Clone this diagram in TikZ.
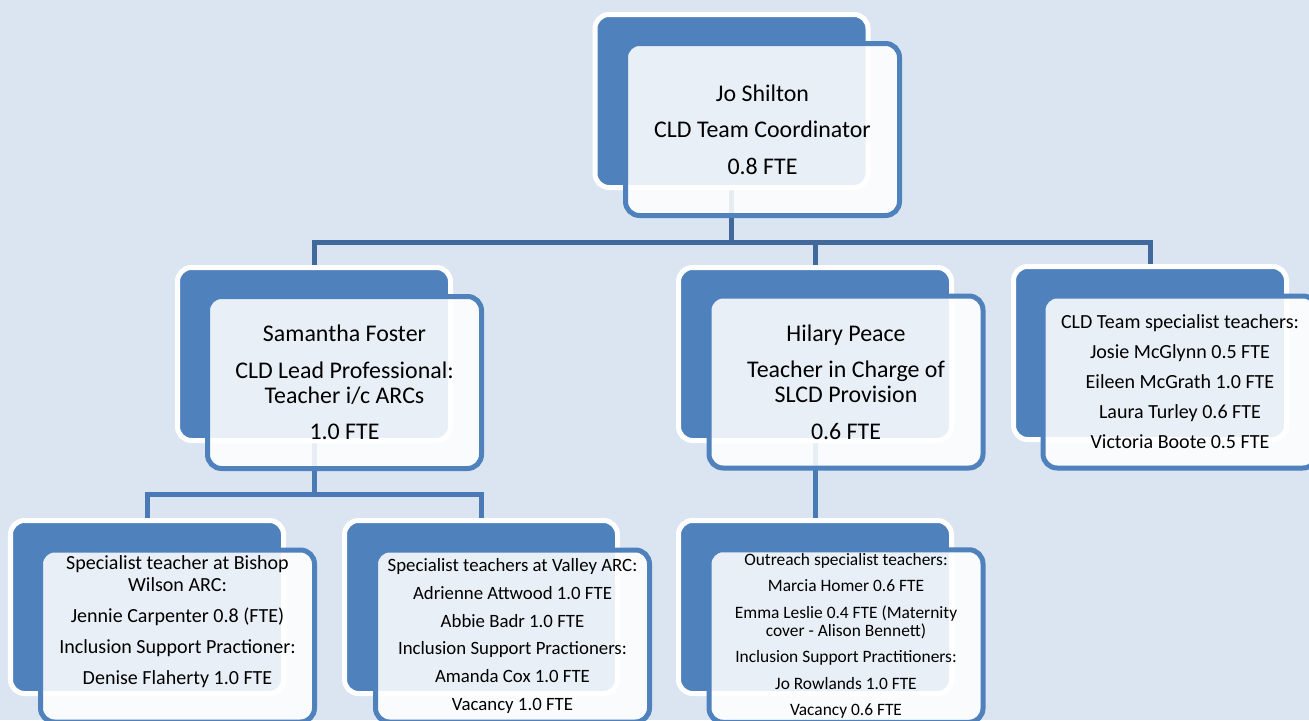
\documentclass[tikz,border=0pt]{standalone}
\usepackage{fontspec}
\setmainfont{Carlito}
\usetikzlibrary{backgrounds}
\definecolor{accent}{HTML}{4F81BD}
\definecolor{pagebg}{HTML}{DBE5F1}
\definecolor{linktop}{HTML}{41699C}
\definecolor{linklow}{HTML}{4A7AB5}
\tikzset{
  backcard/.style={rectangle, rounded corners=0.28cm, draw=white, line width=0.1cm,
                   fill=accent, minimum width=5.46cm, minimum height=3.46cm, outer sep=0pt},
  card/.style={rectangle, rounded corners=0.28cm, draw=accent, line width=0.1cm,
               fill=white, fill opacity=0.88, text opacity=1, align=center,
               minimum width=5.48cm, minimum height=3.44cm, outer sep=0pt, inner sep=2pt},
  txtl/.style={font=\fontsize{13.6}{14.2}\selectfont},
  txtm/.style={font=\fontsize{11.4}{12.3}\selectfont},
  link/.style={draw=linktop, line width=0.1cm},
  sublink/.style={draw=linklow, line width=0.1cm}
}

\begin{document}
\begin{tikzpicture}
\useasboundingbox (0,0) rectangle (26.18,-14.4);

% level 1
\node[backcard] (coordB) at (14.63,-2.02) {};
\node[card,txtl] (coord) at (15.25,-2.59) {Jo Shilton\\[6.6pt] CLD Team Coordinator\\[6.6pt] 0.8 FTE};

% level 2
\node[backcard] (leadB) at (6.28,-7.08) {};
\node[card,txtl] (lead) at (6.89,-7.65) {Samantha Foster\\[6.6pt] CLD Lead Professional:\\ Teacher i/c ARCs\\[6.6pt] 1.0 FTE};
\node[backcard] (slcdB) at (16.30,-7.08) {};
\node[card,txtl] (slcd) at (16.92,-7.64) {Hilary Peace\\[6.6pt] Teacher in Charge of\\ SLCD Provision\\[6.6pt] 0.6 FTE};
\node[backcard] (teamB) at (23.0,-7.06) {};
\node[card,font=\fontsize{11.4}{17.1}\selectfont] (team) at (23.6,-7.64) {CLD Team specialist teachers:\\ Josie McGlynn 0.5 FTE\\ Eileen McGrath 1.0 FTE\\ Laura Turley 0.6 FTE\\ Victoria Boote 0.5 FTE};

% level 3
\node[backcard] (bishopB) at (2.94,-12.14) {};
\node[card,txtm] (bishop) at (3.55,-12.72) {Specialist teacher at Bishop\\ Wilson ARC:\\[5.3pt] Jennie Carpenter 0.8 (FTE)\\[5.3pt] Inclusion Support Practioner:\\[5.3pt] Denise Flaherty 1.0 FTE\\[6pt]\mbox{}};
\node[backcard] (valleyB) at (9.62,-12.14) {};
\node[card,font=\fontsize{10.7}{15.9}\selectfont] (valley) at (10.25,-12.72) {Specialist teachers at Valley ARC:\\ Adrienne Attwood 1.0 FTE\\ Abbie Badr 1.0 FTE\\ Inclusion Support Practioners:\\ Amanda Cox 1.0 FTE\\ Vacancy 1.0 FTE};
\node[backcard] (outreachB) at (16.30,-12.14) {};
\node[card,font=\fontsize{9.9}{10.2}\selectfont] (outreach) at (16.92,-12.72) {Outreach specialist teachers:\\[4.9pt] Marcia Homer 0.6 FTE\\[4.9pt] Emma Leslie 0.4 FTE (Maternity\\ cover - Alison Bennett)\\[4.9pt] Inclusion Support Practitioners:\\[4.9pt] Jo Rowlands 1.0 FTE\\[4.9pt] Vacancy 0.6 FTE};

\begin{scope}[on background layer]
\fill[pagebg] (0,0) rectangle (26.18,-14.4);
\draw[link] (coordB.south) -- ++(0,-1.1) -| (leadB.north);
\draw[link] (coordB.south) -- ++(0,-1.1) -| (slcdB.north);
\draw[link] (coordB.south) -- ++(0,-1.1) -| (teamB.north);
\draw[sublink] (leadB.south) -- ++(0,-1.08) -| (bishopB.north);
\draw[sublink] (leadB.south) -- ++(0,-1.08) -| (valleyB.north);
\draw[sublink] (slcdB.south) -- (outreachB.north);
\end{scope}
\end{tikzpicture}
\end{document}
